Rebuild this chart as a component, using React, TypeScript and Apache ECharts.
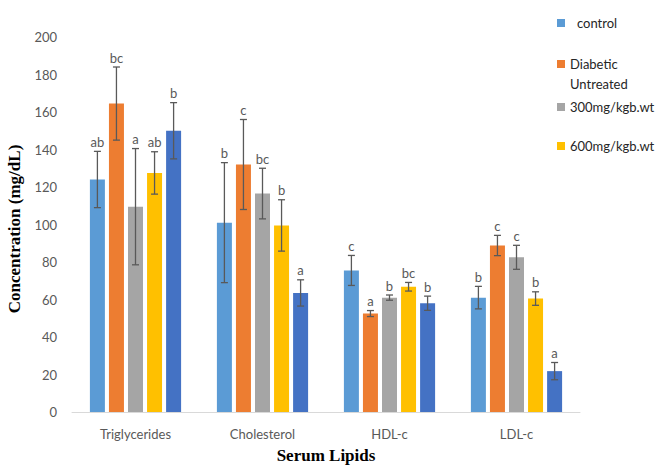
import React, { useEffect, useRef } from "react";
import * as echarts from "echarts";

const categories = ["Triglycerides", "Cholesterol", "HDL-c", "LDL-c"];
const seriesNames = ["control", "Diabetic Untreated", "300mg/kgb.wt", "600mg/kgb.wt", "Standard drug"];
const seriesColors = ["#5B9BD5", "#ED7D31", "#A5A5A5", "#FFC000", "#4472C4"];

const controlValues = [124, 101, 75.5, 61];
const diabeticValues = [164.5, 132, 52.5, 88.8];
const dose300Values = [109.5, 116.5, 61, 82.5];
const dose600Values = [127.5, 99.5, 66.8, 60.5];
const standardValues = [150, 63.5, 58, 21.8];

const controlErrors = [15, 32, 8, 6];
const diabeticErrors = [19.5, 24, 1.6, 5.4];
const dose300Errors = [31, 13.5, 1.4, 6.4];
const dose600Errors = [11.3, 13.7, 2.3, 3.6];
const standardErrors = [15, 7, 3.8, 4.6];

const controlLetters = ["ab", "b", "c", "b"];
const diabeticLetters = ["bc", "c", "a", "c"];
const dose300Letters = ["a", "bc", "b", "c"];
const dose600Letters = ["ab", "b", "bc", "b"];
const standardLetters = ["b", "a", "b", "a"];

const yTicks = { min: 0, max: 200, interval: 20 };

const allValues = [controlValues, diabeticValues, dose300Values, dose600Values, standardValues];
const allErrors = [controlErrors, diabeticErrors, dose300Errors, dose600Errors, standardErrors];
const allLetters = [controlLetters, diabeticLetters, dose300Letters, dose600Letters, standardLetters];

const BAR_WIDTH = 15;
const BAR_GAP = 0.27;
const FONT = "Lato, 'Open Sans', sans-serif";
const SERIF = "'Liberation Serif', 'DejaVu Serif', serif";

export default function App() {
  const ref = useRef<HTMLDivElement>(null);
  useEffect(() => {
    if (!ref.current) return;
    const chart = echarts.init(ref.current, undefined, { renderer: "svg" });
    const pitch = BAR_WIDTH * (1 + BAR_GAP);
    const bars = seriesNames.map((name, k) => ({
      type: "bar",
      name,
      data: allValues[k],
      barWidth: BAR_WIDTH,
      barGap: BAR_GAP * 100 + "%",
      itemStyle: { color: seriesColors[k] },
    }));
    const errs = seriesNames.map((_, k) => ({
      type: "custom",
      id: "err" + k,
      data: allValues[k].map((v, i) => [i, v, allErrors[k][i]]),
      encode: { x: 0, y: 1 },
      z: 10,
      renderItem: (params: any, api: any) => {
        const i = api.value(0);
        const v = api.value(1);
        const e = api.value(2);
        const off = (k - 2) * pitch;
        const top = api.coord([i, v + e]);
        const bot = api.coord([i, v - e]);
        const x = top[0] + off;
        const cap = 3.5;
        const stroke = { stroke: "#595959", lineWidth: 1.3 };
        return {
          type: "group",
          children: [
            { type: "line", shape: { x1: x, y1: top[1], x2: x, y2: bot[1] }, style: stroke },
            { type: "line", shape: { x1: x - cap, y1: top[1], x2: x + cap, y2: top[1] }, style: stroke },
            { type: "line", shape: { x1: x - cap, y1: bot[1], x2: x + cap, y2: bot[1] }, style: stroke },
            {
              type: "text",
              style: {
                text: allLetters[k][params.dataIndex],
                x,
                y: top[1] - 3,
                align: "center",
                verticalAlign: "bottom",
                fill: "#595959",
                font: `13px ${FONT}`,
              },
            },
          ],
        };
      },
    }));
    const legendBase = {
      orient: "vertical",
      left: 557,
      padding: 0,
      icon: "rect",
      itemWidth: 8,
      itemHeight: 8,
      itemGap: 0,
      selectedMode: false,
    };
    chart.setOption({
      animation: false,
      backgroundColor: "#ffffff",
      grid: { left: 72, right: 83, top: 37, bottom: 53, containLabel: false, outerBoundsMode: "none" },
      legend: [
        {
          ...legendBase,
          top: 14,
          data: ["control"],
          textStyle: { fontFamily: FONT, fontSize: 13, color: "#262626", lineHeight: 18, padding: [0, 0, 0, 7] },
        },
        {
          ...legendBase,
          top: 64 - 30,
          data: ["Diabetic Untreated"],
          formatter: () => "\nDiabetic\nUntreated",
          textStyle: { fontFamily: FONT, fontSize: 13, color: "#262626", lineHeight: 20 },
        },
        {
          ...legendBase,
          top: 98,
          data: ["300mg/kgb.wt"],
          textStyle: { fontFamily: FONT, fontSize: 13, color: "#262626", lineHeight: 18 },
        },
        {
          ...legendBase,
          top: 137,
          data: ["600mg/kgb.wt"],
          textStyle: { fontFamily: FONT, fontSize: 13, color: "#262626", lineHeight: 18 },
        },
      ],
      xAxis: {
        type: "category",
        data: categories,
        axisLine: { lineStyle: { color: "#D9D9D9", width: 1 } },
        axisTick: { show: false },
        axisLabel: { color: "#595959", fontFamily: FONT, fontSize: 13, margin: 15 },
        name: "Serum Lipids",
        nameLocation: "middle",
        nameGap: 43,
        nameTextStyle: { fontFamily: SERIF, fontWeight: "bold", fontSize: 17, color: "#000", verticalAlign: "middle" },
      },
      yAxis: {
        type: "value",
        min: yTicks.min,
        max: yTicks.max,
        interval: yTicks.interval,
        axisLine: { show: false },
        axisTick: { show: false },
        splitLine: { show: false },
        axisLabel: { color: "#595959", fontFamily: FONT, fontSize: 13, margin: 15 },
        name: "Concentration (mg/dL)",
        nameLocation: "middle",
        nameGap: 52,
        nameTextStyle: {
          fontFamily: SERIF,
          fontWeight: "bold",
          fontSize: 17,
          color: "#000",
          verticalAlign: "middle",
          padding: [0, 9, 0, 0],
        },
      },
      series: [...bars, ...errs],
    });
    return () => chart.dispose();
  }, []);
  return <div ref={ref} style={{ width: 663, height: 465, position: "absolute", left: 0, top: 0 }} />;
}
